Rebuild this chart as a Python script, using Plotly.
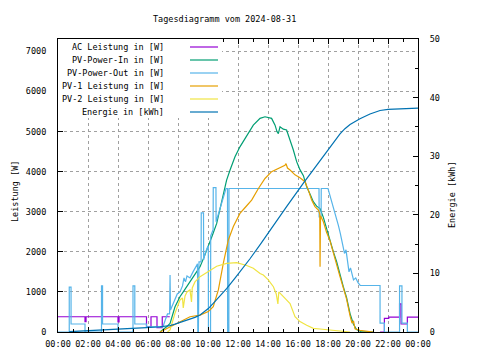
import plotly.graph_objects as go

# ---------------- data (hours of day, W / kWh) ----------------
ac_t = [0, 1.8, 1.87, 4.0, 4.07, 5.9, 6.2, 6.6, 6.95, 7.45, 7.46, 21.47, 21.76, 22.05, 22.77, 22.87, 23.29, 24]
ac_v = [380, 260, 380, 250, 380, 130, 380, 110, 380, 380, None, 0, 340, 370, 700, 200, 370, 370]

pvin_t = [6.8, 7.1, 7.3, 7.47, 7.6, 7.8, 8.0, 8.13, 8.35, 8.58, 8.8, 9.02, 9.25, 9.47, 9.75, 10.02, 10.3, 10.58,
          10.9, 11.24, 11.47, 11.8, 12.13, 12.58, 13.02, 13.47, 13.8, 14.24, 14.47, 14.6, 14.69, 14.8, 15.02, 15.24,
          15.47, 15.69, 15.91, 16.13, 16.36, 16.58, 16.8, 17.02, 17.24, 17.47, 17.69, 17.91, 18.13, 18.36, 18.58,
          18.8, 19.02, 19.24, 19.47, 19.69, 19.9, 20.2, 21.0]
pvin_v = [0, 80, 150, 215, 400, 630, 780, 880, 1000, 1130, 1250, 1380, 1500, 1630, 1880, 2130, 2420, 2710,
          3210, 3790, 4040, 4370, 4620, 4910, 5160, 5330, 5370, 5330, 5160, 5000, 4950, 5120, 5060, 5040,
          4790, 4540, 4250, 4050, 3900, 3620, 3440, 3250, 3140, 3080, 2860, 2560, 2300, 2000, 1750,
          1420, 1130, 860, 460, 200, 60, 10, 0]

pvout_t = [0, 0.75, 0.75, 0.87, 0.87, 1.8, 1.8, 2.9, 2.9, 2.97, 2.97, 4.0, 4.0, 5.0, 5.0, 5.12, 5.12, 5.9, 5.9,
           7.0, 7.15, 7.3, 7.44, 7.45, 7.47, 7.5, 7.65, 7.8, 7.95, 8.13, 8.3, 8.4, 8.5, 8.6, 8.8, 9.0, 9.15,
           9.3, 9.32, 9.36, 9.4, 9.54, 9.55, 9.7, 9.71, 9.8, 9.95, 10.02, 10.03, 10.17, 10.18, 10.34, 10.35,
           10.53, 10.54, 10.62, 10.75, 10.9, 11.05, 11.2, 11.3, 11.31, 11.39, 11.4, 17.4, 17.41, 17.54, 17.55,
           18.0, 18.1, 18.2, 18.33, 18.45, 18.55, 18.7, 18.82, 18.95, 19.1, 19.2, 19.3, 19.4, 19.5, 19.6, 19.7,
           19.85, 20.0, 20.15, 21.47, 21.47, 21.76, 21.76, 22.77, 22.77, 22.93, 22.93, 23.29, 23.29, 24]
pvout_v = [0, 0, 1120, 1120, 200, 200, 0, 0, 1150, 1150, 200, 200, 0, 0, 1150, 1150, 200, 200, 130,
           130, 300, 450, 450, 1420, 1420, 550, 700, 800, 950, 1000, 1150, 1350, 1250, 1400, 1350, 1500, 1600,
           1700, 0, 0, 1750, 1750, 2970, 2970, 1800, 1950, 2100, 2150, 0, 0, 2400, 2550, 3600,
           3600, 2750, 2850, 3050, 3250, 3400, 3580, 3580, 0, 0, 3580, 3580, 2870, 2870, 3580,
           3580, 3450, 3350, 3170, 3000, 2850, 2650, 2460, 2250, 1960, 2050, 1750, 1500, 1600, 1400, 1300,
           1350, 1230, 1160, 1160, 220, 220, 0, 0, 1150, 1150, 220, 220, 0, 0]

pv1_t = [6.8, 7.47, 8.13, 8.8, 9.47, 10.02, 10.35, 10.69, 11.02, 11.35, 11.69, 12.13, 12.58, 12.91, 13.36,
         13.8, 14.24, 14.69, 15.02, 15.13, 15.2, 15.3, 15.47, 15.8, 16.13, 16.47, 16.69, 16.91, 17.13, 17.36,
         17.45, 17.47, 17.5, 17.69, 17.91, 18.13, 18.36, 18.58, 18.8, 19.02, 19.24, 19.47, 19.6, 19.7, 19.8,
         20.13, 20.5, 21.0]
pv1_v = [0, 130, 260, 380, 420, 510, 630, 1050, 1710, 2290, 2630, 2960, 3150, 3290, 3580,
         3830, 4000, 4080, 4120, 4160, 4200, 4090, 4040, 3920, 3850, 3750, 3540, 3290, 3130, 3040,
         2950, 1630, 2900, 2750, 2480, 2280, 1950, 1700, 1380, 1100, 820, 400, 220, 280, 80,
         40, 20, 0]

pv2_t = [7.3, 7.47, 7.8, 8.13, 8.3, 8.35, 8.47, 8.6, 8.8, 8.9, 8.95, 9.13, 9.47, 10.02, 10.58, 11.24, 11.91,
         12.58, 13.02, 13.47, 13.69, 14.02, 14.36, 14.55, 14.62, 14.66, 14.72, 15.02, 15.47, 15.8, 16.13,
         16.58, 17.02, 17.47, 18.13, 18.8, 19.47]
pv2_v = [0, 50, 470, 800, 850, 600, 900, 1000, 1050, 750, 1100, 1250, 1380, 1500, 1640, 1710, 1730,
         1660, 1590, 1460, 1420, 1300, 1130, 950, 800, 700, 1000, 880, 710, 380, 260,
         170, 90, 75, 50, 10, 0]

en_t = [0.75, 1.8, 2.9, 4.0, 5.0, 5.9, 6.8, 7.47, 7.8, 8.5, 9.13, 9.47, 10.02, 10.35, 10.7, 11.24, 11.8,
        12.3, 12.8, 13.5, 14.13, 15.24, 16.36, 17.47, 17.91, 18.13, 18.5, 18.8, 19.13, 19.47, 20.13, 20.8,
        21.47, 22.0, 24.0]
en_v = [0.05, 0.17, 0.34, 0.45, 0.62, 0.73, 0.9, 1.1, 1.35, 1.9, 2.5, 2.9, 4.0, 4.9, 5.9, 7.4, 9.2,
        10.8, 12.5, 15.0, 17.4, 21.4, 25.4, 29.3, 30.8, 31.6, 32.8, 33.8, 34.7, 35.4, 36.4, 37.2,
        37.8, 38.0, 38.2]

tick_hours = list(range(0, 25, 2))
tick_labels = ["00:00", "02:00", "04:00", "06:00", "08:00", "10:00", "12:00",
               "14:00", "16:00", "18:00", "20:00", "22:00", "00:00"]

names = ["AC Leistung in [W]", "PV-Power-In in [W]", "PV-Power-Out in [W]",
         "PV-1 Leistung in [W]", "PV-2 Leistung in [W]", "Energie in [kWh]"]
colors = ["#9400D3", "#009E73", "#56B4E9", "#E69F00", "#F0E442", "#0072B2"]

FONT = "DejaVu Sans Mono"
OFF = 8                      # default page body margin of the html page
W, H = 480 - 2 * OFF, 360 - 2 * OFF
PX0, PX1, PY0, PY1 = 58, 418, 39, 332   # plot area on the page (pixels)
L, R, T, B = PX0 - OFF, W - (PX1 - OFF), PY0 - OFF, H - (PY1 - OFF)
PW, PH = PX1 - PX0, PY1 - PY0


def px(x):
    return (x - PX0) / PW


def py(y):
    return (PY1 - y) / PH


fig = go.Figure()
series = [(ac_t, ac_v, "hv", "y"), (pvin_t, pvin_v, "linear", "y"), (pvout_t, pvout_v, "linear", "y"),
          (pv1_t, pv1_v, "linear", "y"), (pv2_t, pv2_v, "linear", "y"), (en_t, en_v, "linear", "y2")]
for (t, v, shape, ax), name, c in zip(series, names, colors):
    fig.add_trace(go.Scatter(x=t, y=v, mode="lines", name=name, yaxis=ax,
                             line=dict(color=c, width=1.2, shape=shape),
                             connectgaps=False, showlegend=False))

shapes = [dict(type="rect", xref="paper", yref="paper", x0=0, x1=px(222), y0=py(118), y1=1,
               fillcolor="white", line=dict(width=0), layer="above")]
annotations = []
rows = [47, 60, 73, 86, 99, 112]
for name, c, r in zip(names, colors, rows):
    annotations.append(dict(xref="paper", yref="paper", x=px(166), y=py(r), text=name,
                            showarrow=False, xanchor="right", yanchor="middle",
                            font=dict(family=FONT, size=8.5, color="black")))
    shapes.append(dict(type="line", xref="paper", yref="paper", x0=px(190), x1=px(218),
                       y0=py(r), y1=py(r), line=dict(color=c, width=1.2), layer="above"))

annotations.append(dict(xref="paper", yref="paper", x=px(224), y=py(19), text="Tagesdiagramm vom 2024-08-31",
                        showarrow=False, xanchor="center", yanchor="middle",
                        font=dict(family=FONT, size=8.5, color="black")))
annotations.append(dict(xref="paper", yref="paper", x=px(15), y=py(192), text="Leistung [W]",
                        textangle=-90, showarrow=False, xanchor="center", yanchor="middle",
                        font=dict(family=FONT, size=8.5, color="black")))
annotations.append(dict(xref="paper", yref="paper", x=px(452), y=py(195), text="Energie [kWh]",
                        textangle=-90, showarrow=False, xanchor="center", yanchor="middle",
                        font=dict(family=FONT, size=8.5, color="black")))

grid = dict(showgrid=True, gridcolor="#a0a0a0", gridwidth=1, griddash="3px,3px")

fig.update_layout(
    width=W, height=H,
    margin=dict(l=L, r=R, t=T, b=B, autoexpand=False),
    paper_bgcolor="white", plot_bgcolor="white",
    font=dict(family=FONT, size=8.5, color="black"),
    xaxis=dict(range=[0, 24], tickvals=tick_hours, ticktext=tick_labels, ticks="inside",
               ticklen=5, tickcolor="black", showline=True, linecolor="black", linewidth=1,
               mirror="ticks", zeroline=False, ticklabelstandoff=4,
               minor=dict(dtick=1, ticks="inside", ticklen=3, tickcolor="black", showgrid=False),
               **grid),
    yaxis=dict(range=[0, 7310], tickvals=[0, 1000, 2000, 3000, 4000, 5000, 6000, 7000],
               ticks="inside", ticklen=5, tickcolor="black", showline=True, linecolor="black",
               linewidth=1, mirror=True, zeroline=False, ticklabelstandoff=9, **grid),
    yaxis2=dict(range=[0, 50], overlaying="y", side="right", tickvals=[0, 10, 20, 30, 40, 50],
                ticks="inside", ticklen=5, tickcolor="black", showline=True, linecolor="black",
                linewidth=1, showgrid=False, zeroline=False, ticklabelstandoff=9,
                minor=dict(dtick=5, ticks="inside", ticklen=3, tickcolor="black")),
    shapes=shapes, annotations=annotations, showlegend=False,
)

fig.write_html("out.html")
